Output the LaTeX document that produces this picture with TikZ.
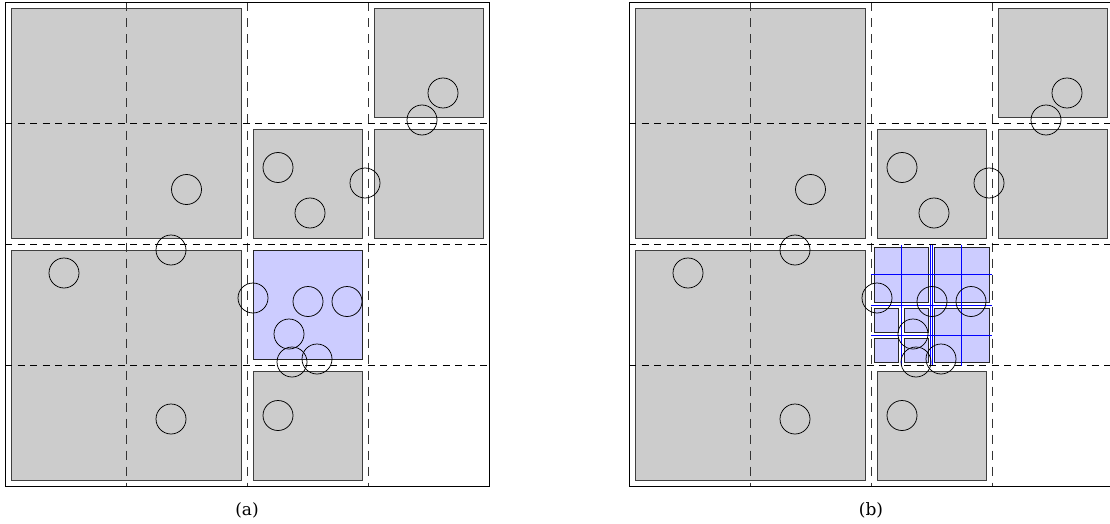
\documentclass[tikz,border=0pt]{standalone}
\usepackage{fontspec}
\newfontfamily\capfont{DejaVu Serif}
\definecolor{boxgray}{RGB}{204,204,204}
\definecolor{boxblue}{RGB}{204,204,255}
\definecolor{lineblue}{RGB}{0,0,255}
\newcommand\panelboxes{%
  \draw[graybox] (11,8.5) rectangle (241,238.5);
  \draw[graybox] (374,8.5) rectangle (483,117.5);
  \draw[graybox] (253,129.5) rectangle (362,238.5);
  \draw[graybox] (374,129.5) rectangle (483,238.5);
  \draw[graybox] (11,250.5) rectangle (241,480.5);
  \draw[graybox] (253,371.5) rectangle (362,480.5);
}
\newcommand\panelgrid{%
  \foreach \gx in {126,247,368} \draw[gridv] (\gx,2.5) -- (\gx,486.5);
  \foreach \gy in {123.5,244.5,365.5} \draw[gridh] (5,\gy) -- (489,\gy);
  \draw[frame] (5,2.5) rectangle (489,486.5);
}
\newcommand\panelcircles{%
  \foreach \cx/\cy in {186.5/189.5, 171/250, 64/273, 171/419, 278/167.5, 310/213,
      365/183, 443/93, 422/120, 253/298, 308/301.5, 347/301.5, 289/334,
      292/362, 317/359, 278/415.5}
    \draw[pt] (\cx,\cy) circle[radius=15];
}
\begin{document}
\begin{tikzpicture}[x=1pt,y=-1pt,
  frame/.style={draw=black,line width=0.9pt},
  gridh/.style={draw=black,line width=0.8pt,dash pattern=on 7pt off 5.5pt},
  gridv/.style={draw=black!80,line width=0.8pt,dash pattern=on 9pt off 7pt},
  graybox/.style={draw=black!75,fill=boxgray,line width=0.8pt},
  bluebox/.style={draw=black!85,fill=boxblue,line width=0.8pt},
  blueline/.style={draw=lineblue,line width=0.7pt},
  pt/.style={draw=black,line width=0.75pt},
  caption/.style={font=\capfont\fontsize{17}{20}\selectfont,inner sep=0pt}]
\useasboundingbox (0,0) rectangle (1110,524);
\clip (0,0) rectangle (1110,524);
% panel (a)
\begin{scope}
  \panelboxes
  \draw[bluebox] (253,250.5) rectangle (362,359.5);
  \panelgrid
  \panelcircles
\end{scope}
% panel (b)
\begin{scope}[shift={(624,0)}]
  \panelboxes
  \draw[bluebox] (250,247.5) rectangle (304.5,302);
  \draw[bluebox] (310.5,247.5) rectangle (365,302);
  \draw[bluebox] (310.5,308) rectangle (365,362.5);
  \draw[bluebox] (250,308) rectangle (274.25,332.25);
  \draw[bluebox] (280.25,308) rectangle (304.5,332.25);
  \draw[bluebox] (250,338.25) rectangle (274.25,362.5);
  \draw[bluebox] (280.25,338.25) rectangle (304.5,362.5);
  \foreach \bx in {277.25,306.7,308.3,337.75} \draw[blueline] (\bx,244.5) -- (\bx,365.5);
  \foreach \by in {274.75,305,335.25} \draw[blueline] (247,\by) -- (368,\by);
  \panelgrid
  \panelcircles
\end{scope}
\node[caption] (capa) at (247,510) {(a)};
\node[caption] (capb) at (871,510) {(b)};
\end{tikzpicture}
\end{document}
